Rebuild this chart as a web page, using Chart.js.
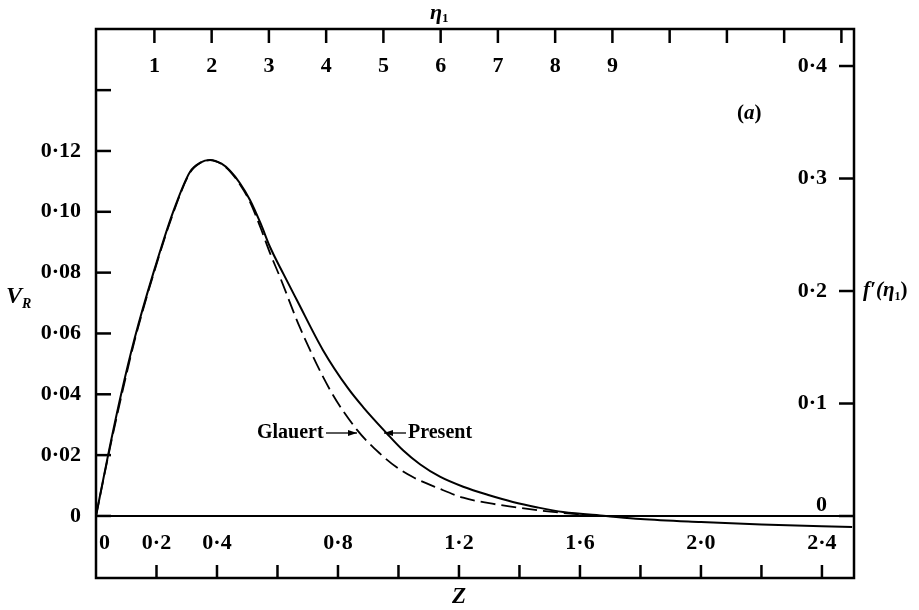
<!DOCTYPE html>
<html>
<head>
<meta charset="utf-8">
<script src="https://cdn.jsdelivr.net/npm/chart.js@4.4.1/dist/chart.umd.min.js"></script>
<style>
  html,body{margin:0;padding:0;background:#fff;}
  #wrap{width:919px;height:610px;}
</style>
</head>
<body>
<div id="wrap"><canvas id="vrChart" width="919" height="610"></canvas></div>
<script>
// ---- data ----
const zPresent = [0, 0.04, 0.083, 0.128, 0.19, 0.255, 0.311, 0.345, 0.377, 0.415, 0.443, 0.476, 0.509, 0.545, 0.575, 0.62, 0.664, 0.75, 0.833, 0.883, 0.961, 1.016, 1.071, 1.137, 1.214, 1.30, 1.378, 1.46, 1.544, 1.686, 1.8, 2.0, 2.2, 2.5];
const vPresent = [0, 0.02, 0.04, 0.0585, 0.08, 0.10, 0.1132, 0.1162, 0.117, 0.1158, 0.1135, 0.1094, 0.1039, 0.096, 0.0885, 0.0795, 0.071, 0.0546, 0.042, 0.0358, 0.0272, 0.0215, 0.0170, 0.0129, 0.0096, 0.0068, 0.0046, 0.0028, 0.0013, 0, -0.001, -0.002, -0.0028, -0.0036];

const zGlauert = [0, 0.04, 0.083, 0.128, 0.19, 0.255, 0.311, 0.345, 0.377, 0.415, 0.443, 0.476, 0.509, 0.545, 0.575, 0.608, 0.674, 0.774, 0.863, 0.939, 0.994, 1.049, 1.132, 1.214, 1.30, 1.378, 1.46, 1.544, 1.6];
const vGlauert = [0, 0.0195, 0.039, 0.0578, 0.0795, 0.0995, 0.1129, 0.1161, 0.117, 0.1157, 0.1133, 0.109, 0.1033, 0.0945, 0.0865, 0.0786, 0.062, 0.0414, 0.0283, 0.0205, 0.016, 0.0127, 0.0091, 0.006, 0.0042, 0.003, 0.0019, 0.001, 0.0005];

// axes
const vTicks = [0, 0.02, 0.04, 0.06, 0.08, 0.10, 0.12, 0.14];
const vLabels = ["0", "0·02", "0·04", "0·06", "0·08", "0·10", "0·12", ""];
const zTicks = [0.2, 0.4, 0.6, 0.8, 1.0, 1.2, 1.4, 1.6, 1.8, 2.0, 2.2, 2.4];
const zLabelVals = [0, 0.2, 0.4, 0.8, 1.2, 1.6, 2.0, 2.4];
const zLabels = ["0", "0·2", "0·4", "0·8", "1·2", "1·6", "2·0", "2·4"];
const etaTicks = [1, 2, 3, 4, 5, 6, 7, 8, 9, 10, 11, 12, 13];
const etaLabels = ["1", "2", "3", "4", "5", "6", "7", "8", "9"];
const fTicks = [0, 0.1, 0.2, 0.3, 0.4];
const fLabels = ["0", "0·1", "0·2", "0·3", "0·4"];

const toPts = (xs, ys) => xs.map((x, i) => ({x, y: ys[i]}));

const SERIF = "'Liberation Serif', 'DejaVu Serif', serif";
const numFont = "bold 22px " + SERIF;

function arrow(ctx, x0, x1, y){
  ctx.beginPath(); ctx.moveTo(x0, y); ctx.lineTo(x1, y); ctx.stroke();
  const d = x1 > x0 ? 1 : -1;
  ctx.beginPath();
  ctx.moveTo(x1, y); ctx.lineTo(x1 - d*9, y - 3); ctx.lineTo(x1 - d*9, y + 3); ctx.closePath(); ctx.fill();
}

// mixed-style text, pieces drawn one after another
function runs(ctx, x, y, parts){
  parts.forEach(([txt, font, dy]) => {
    ctx.font = font;
    ctx.fillText(txt, x, y + (dy || 0));
    x += ctx.measureText(txt).width;
  });
}

const frame = {
  id: "frame",
  beforeDatasetsDraw(chart){
    const {ctx, chartArea:a, scales:{y}} = chart;
    ctx.save();
    ctx.strokeStyle = "#000"; ctx.lineWidth = 2;
    const y0 = Math.round(y.getPixelForValue(0));
    ctx.beginPath(); ctx.moveTo(a.left, y0); ctx.lineTo(a.right, y0); ctx.stroke();
    ctx.restore();
  },
  afterDraw(chart){
    const {ctx, chartArea:a, scales:{x, y, eta, fp}} = chart;
    ctx.save();
    ctx.strokeStyle = "#000"; ctx.fillStyle = "#000";
    ctx.lineWidth = 2.5;
    ctx.strokeRect(a.left, a.top, a.right - a.left, a.bottom - a.top);
    // inward ticks
    vTicks.forEach(v => {
      const p = y.getPixelForValue(v);
      ctx.beginPath(); ctx.moveTo(a.left, p); ctx.lineTo(a.left + 15, p); ctx.stroke();
    });
    zTicks.forEach(v => {
      const p = x.getPixelForValue(v);
      ctx.beginPath(); ctx.moveTo(p, a.bottom); ctx.lineTo(p, a.bottom - 13); ctx.stroke();
    });
    etaTicks.forEach(v => {
      const p = eta.getPixelForValue(v);
      ctx.beginPath(); ctx.moveTo(p, a.top); ctx.lineTo(p, a.top + 14); ctx.stroke();
    });
    fTicks.forEach(v => {
      const p = fp.getPixelForValue(v);
      ctx.beginPath(); ctx.moveTo(a.right, p); ctx.lineTo(a.right - 15, p); ctx.stroke();
    });

    ctx.font = numFont;
    ctx.textBaseline = "middle";
    ctx.textAlign = "right";
    vTicks.forEach((v, i) => { if (vLabels[i]) ctx.fillText(vLabels[i], a.left - 15, y.getPixelForValue(v)); });
    zLabelVals.forEach((v, i) => {
      const p = x.getPixelForValue(v);
      ctx.textAlign = i === 0 ? "left" : "center";
      ctx.fillText(zLabels[i], i === 0 ? p + 3 : p, a.bottom - 35);
    });
    ctx.textAlign = "center";
    etaLabels.forEach((t, i) => ctx.fillText(t, eta.getPixelForValue(etaTicks[i]), a.top + 37));
    ctx.textAlign = "right";
    fTicks.forEach((v, i) => {
      const p = fp.getPixelForValue(v);
      ctx.fillText(fLabels[i], a.right - 27, v === 0 ? p - 11 : p);
    });

    // axis titles
    ctx.textAlign = "left";
    runs(ctx, 6, 297, [["V", "italic bold 24px " + SERIF], ["R", "italic bold 14px " + SERIF, 7]]);

    ctx.textAlign = "center";
    ctx.font = "italic bold 23px " + SERIF;
    ctx.fillText("Z", x.getPixelForValue(1.2), 597);

    ctx.textAlign = "left";
    runs(ctx, 430, 13, [["η", "italic bold 22px " + SERIF], ["1", "bold 13px " + SERIF, 6]]);

    const fy = fp.getPixelForValue(0.2);
    runs(ctx, 863, fy, [
      ["f′(η", "italic bold 21px " + SERIF],
      ["1", "bold 12px " + SERIF, 6],
      [")", "bold 21px " + SERIF]
    ]);

    runs(ctx, 737, 114, [
      ["(", "bold 21px " + SERIF],
      ["a", "italic bold 21px " + SERIF],
      [")", "bold 21px " + SERIF]
    ]);

    // annotations
    ctx.font = "bold 20px " + SERIF;
    ctx.fillText("Glauert", 257, 433);
    ctx.fillText("Present", 408, 433);
    ctx.lineWidth = 1.3;
    arrow(ctx, 326, 357, 433);
    arrow(ctx, 406, 384, 433);
    ctx.restore();
  }
};

new Chart(document.getElementById("vrChart"), {
  type: "line",
  data: {
    datasets: [
      { label: "Present", data: toPts(zPresent, vPresent), borderColor: "#000", borderWidth: 2,
        pointRadius: 0, cubicInterpolationMode: "monotone", fill: false },
      { label: "Glauert", data: toPts(zGlauert, vGlauert), borderColor: "#000", borderWidth: 1.8,
        borderDash: [15, 6], pointRadius: 0, cubicInterpolationMode: "monotone", fill: false }
    ]
  },
  options: {
    responsive: false,
    animation: false,
    layout: { padding: { left: 96, right: 65, top: 29, bottom: 32 } },
    plugins: { legend: { display: false }, tooltip: { enabled: false } },
    scales: {
      x: { type: "linear", min: 0, max: 2.506, display: false },
      y: { type: "linear", min: -0.0204, max: 0.1601, display: false },
      eta: { type: "linear", axis: "x", position: "top", min: -0.02, max: 13.22, display: false },
      fp: { type: "linear", axis: "y", position: "right", min: -0.0551, max: 0.4329, display: false }
    }
  },
  plugins: [frame]
});
</script>
</body>
</html>
